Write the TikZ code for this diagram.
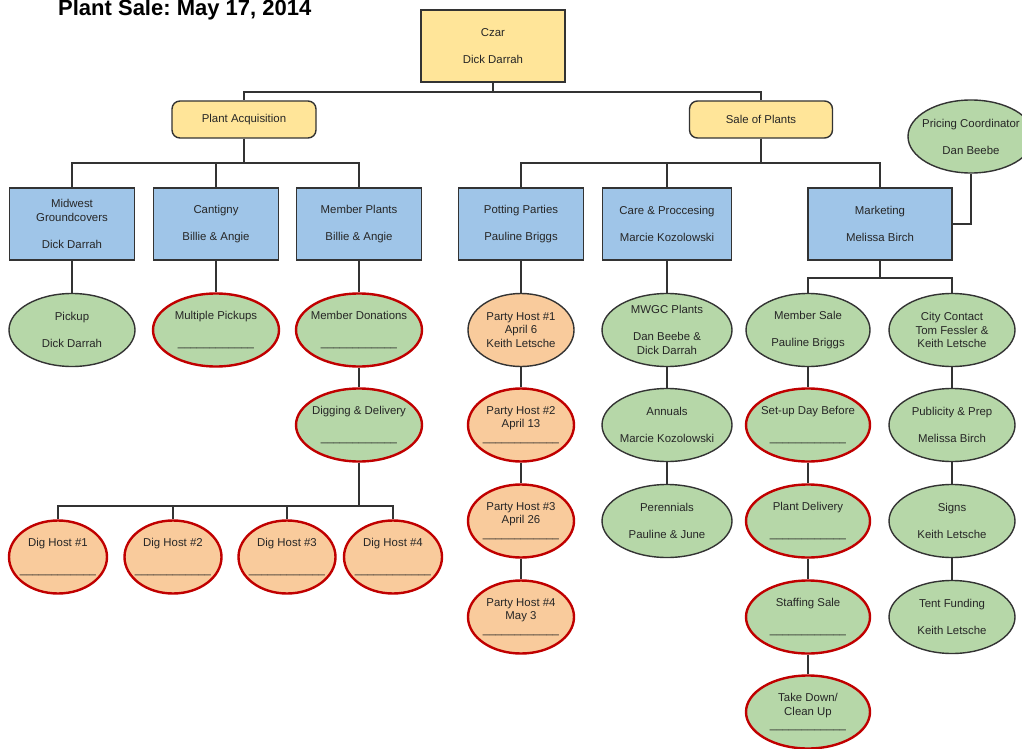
\documentclass[tikz,border=0pt]{standalone}
\usepackage{fontspec}
\setmainfont{Liberation Sans}
\usetikzlibrary{shapes.geometric}
\definecolor{yel}{HTML}{FFE599}
\definecolor{blu}{HTML}{9FC5E8}
\definecolor{grn}{HTML}{B6D7A8}
\definecolor{pch}{HTML}{F9CB9C}
\definecolor{redb}{HTML}{C00000}
\definecolor{dk}{HTML}{333333}
\definecolor{txt}{HTML}{262626}
\newcommand\blankline{\_\_\_\_\_\_\_\_\_\_\_\_}
\frenchspacing
\begin{document}
\begin{tikzpicture}[x=1pt,y=-1pt,
  fnt/.style={font=\fontsize{11.4}{13.5}\selectfont, text=txt},
  bx/.style={rectangle, draw=dk, line width=1.4pt, inner sep=0pt, align=center, fnt},
  ybox/.style={bx, fill=yel},
  bbox/.style={bx, fill=blu, minimum width=125pt, minimum height=72pt},
  lab/.style={align=center, inner sep=0pt, fnt},
  ell/.style={ellipse, draw=dk, line width=1.4pt, inner sep=0pt, minimum height=73pt, minimum width=126pt},
  gell/.style={ell, fill=grn},
  pell/.style={ell, fill=pch},
  redl/.style={draw=redb, line width=2.4pt},
  conn/.style={draw=dk, line width=1.8pt},
  ttl/.style={font=\fontsize{22}{26}\selectfont\bfseries, text=black, anchor=base west, inner sep=0pt}
]
\useasboundingbox (0,0) rectangle (1022,749);

\node[ttl] (title) at (58,16) {Plant Sale: May 17, 2014};

% top level
\node[ybox, minimum width=144pt, minimum height=72pt] (czar) at (493,46) {Czar\\[13.5pt]Dick Darrah};
\node[ybox, rounded corners=8pt, minimum width=144pt, minimum height=37pt] (pa) at (244,119.5) {Plant Acquisition};
\node[ybox, rounded corners=8pt, minimum width=143pt, minimum height=37pt] (sp) at (761,119.5) {Sale of Plants};

% blue boxes
\node[bbox] (mw) at (72,224) {Midwest\\Groundcovers\\[13.5pt]Dick Darrah};
\node[bbox] (cg) at (216,224) {Cantigny\\[13.5pt]Billie \& Angie};
\node[bbox] (mp) at (359,224) {Member Plants\\[13.5pt]Billie \& Angie};
\node[bbox] (pp) at (521,224) {Potting Parties\\[13.5pt]Pauline Briggs};
\node[bbox, minimum width=129pt] (cp) at (667,224) {Care \& Proccesing\\[13.5pt]Marcie Kozolowski};
\node[bbox, minimum width=144pt] (mk) at (880,224) {Marketing\\[13.5pt]Melissa Birch};

% pricing coordinator
\node[gell, label={[lab]center:{Pricing Coordinator\\[13.5pt]Dan Beebe}}] (pc) at (971,136.5) {};

% row 1
\node[gell, label={[lab]center:{Pickup\\[13.5pt]Dick Darrah}}] (pu) at (72,330) {};
\node[gell, redl, label={[lab]center:{Multiple Pickups\\[13.5pt]\blankline}}] (mpu) at (216,330) {};
\node[gell, redl, label={[lab]center:{Member Donations\\[13.5pt]\blankline}}] (md) at (359,330) {};
\node[pell, minimum width=106pt, label={[lab]center:{Party Host \#1\\April 6\\Keith Letsche}}] (ph1) at (521,330) {};
\node[gell, minimum width=130pt, label={[lab]center:{MWGC Plants\\[13.5pt]Dan Beebe \&\\Dick Darrah}}] (mwgc) at (667,330) {};
\node[gell, minimum width=124pt, label={[lab]center:{Member Sale\\[13.5pt]Pauline Briggs}}] (ms) at (808,330) {};
\node[gell, label={[lab]center:{City Contact\\Tom Fessler \&\\Keith Letsche}}] (cc) at (952,330) {};

% row 2
\node[gell, redl, label={[lab]center:{Digging \& Delivery\\[13.5pt]\blankline}}] (dd) at (359,425) {};
\node[pell, redl, minimum width=106pt, label={[lab]center:{Party Host \#2\\April 13\\\blankline}}] (ph2) at (521,425) {};
\node[gell, minimum width=130pt, label={[lab]center:{Annuals\\[13.5pt]Marcie Kozolowski}}] (ann) at (667,425) {};
\node[gell, redl, minimum width=124pt, label={[lab]center:{Set-up Day Before\\[13.5pt]\blankline}}] (su) at (808,425) {};
\node[gell, label={[lab]center:{Publicity \& Prep\\[13.5pt]Melissa Birch}}] (pub) at (952,425) {};

% row 3
\node[pell, redl, minimum width=106pt, label={[lab]center:{Party Host \#3\\April 26\\\blankline}}] (ph3) at (521,521) {};
\node[gell, minimum width=130pt, label={[lab]center:{Perennials\\[13.5pt]Pauline \& June}}] (per) at (667,521) {};
\node[gell, redl, minimum width=124pt, label={[lab]center:{Plant Delivery\\[13.5pt]\blankline}}] (pd) at (808,521) {};
\node[gell, label={[lab]center:{Signs\\[13.5pt]Keith Letsche}}] (sig) at (952,521) {};

% row 4
\node[pell, redl, minimum width=106pt, label={[lab]center:{Party Host \#4\\May 3\\\blankline}}] (ph4) at (521,617) {};
\node[gell, redl, minimum width=124pt, label={[lab]center:{Staffing Sale\\[13.5pt]\blankline}}] (ss) at (808,617) {};
\node[gell, label={[lab]center:{Tent Funding\\[13.5pt]Keith Letsche}}] (tf) at (952,617) {};

% row 5
\node[gell, redl, minimum width=124pt, label={[lab]center:{Take Down/\\Clean Up\\\blankline}}] (td) at (808,712) {};

% dig hosts
\node[pell, redl, minimum width=98pt, label={[lab]center:{Dig Host \#1\\[13.5pt]\blankline}}] (dh1) at (58,557) {};
\node[pell, redl, minimum width=97pt, label={[lab]center:{Dig Host \#2\\[13.5pt]\blankline}}] (dh2) at (173,557) {};
\node[pell, redl, minimum width=97pt, label={[lab]center:{Dig Host \#3\\[13.5pt]\blankline}}] (dh3) at (287,557) {};
\node[pell, redl, minimum width=98pt, label={[lab]center:{Dig Host \#4\\[13.5pt]\blankline}}] (dh4) at (393,557) {};

% connectors
\draw[conn] (czar.south) -- ++(0,9) -| (pa.north);
\draw[conn] (czar.south) -- ++(0,9) -| (sp.north);
\foreach \c in {mw,cg,mp} \draw[conn] (pa.south) -- ++(0,24) -| (\c.north);
\foreach \c in {pp,cp,mk} \draw[conn] (sp.south) -- ++(0,24) -| (\c.north);
\draw[conn] (mk.east) -| (pc.south);
\draw[conn] (mw.south) -- (pu.north);
\draw[conn] (cg.south) -- (mpu.north);
\draw[conn] (mp.south) -- (md.north);
\draw[conn] (md.south) -- (dd.north);
\foreach \c in {dh1,dh2,dh3,dh4} \draw[conn] (dd.south) -- ++(0,43) -| (\c.north);
\draw[conn] (pp.south) -- (ph1.north);
\draw[conn] (ph1.south) -- (ph2.north);
\draw[conn] (ph2.south) -- (ph3.north);
\draw[conn] (ph3.south) -- (ph4.north);
\draw[conn] (cp.south) -- (mwgc.north);
\draw[conn] (mwgc.south) -- (ann.north);
\draw[conn] (ann.south) -- (per.north);
\draw[conn] (mk.south) -- ++(0,17) -| (ms.north);
\draw[conn] (mk.south) -- ++(0,17) -| (cc.north);
\draw[conn] (ms.south) -- (su.north);
\draw[conn] (su.south) -- (pd.north);
\draw[conn] (pd.south) -- (ss.north);
\draw[conn] (ss.south) -- (td.north);
\draw[conn] (cc.south) -- (pub.north);
\draw[conn] (pub.south) -- (sig.north);
\draw[conn] (sig.south) -- (tf.north);
\end{tikzpicture}
\end{document}
